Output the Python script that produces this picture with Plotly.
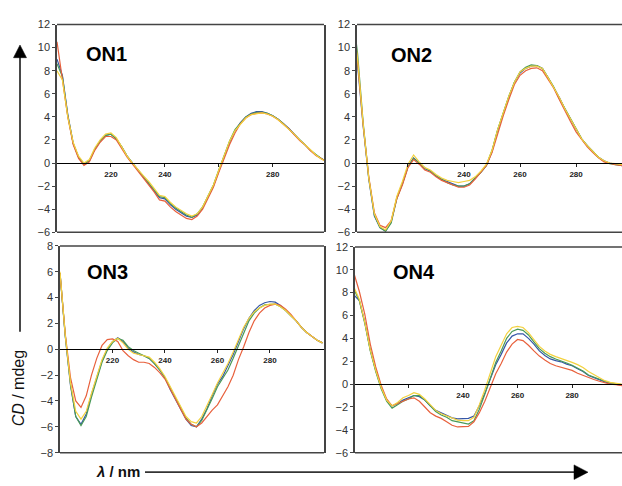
import plotly.graph_objects as go

# ---------------- data ----------------
WAVELENGTH = [200, 202, 204, 206, 208, 210, 212, 214, 216, 218,
              220, 222, 224, 226, 228, 230, 232, 234, 236, 238,
              240, 242, 244, 246, 248, 250, 252, 254, 256, 258,
              260, 262, 264, 266, 268, 270, 272, 274, 276, 278,
              280, 282, 284, 286, 288, 290, 292, 294, 296, 298, 300]

SERIES_NAMES = ["blue", "green", "red", "yellow"]
SERIES_COLORS = ["#3556a6", "#4a9a58", "#e8603c", "#f3d23e"]

ON1_BLUE = [9.0, 7.6, 4.2, 1.7, 0.5, -0.1, 0.2, 1.2, 1.9, 2.4, 2.5, 2.1, 1.4, 0.6, 0.0, -0.6, -1.2, -1.7, -2.3, -3.0, -3.1, -3.6, -4.0, -4.3, -4.6, -4.7, -4.5, -3.9, -3.0, -2.0, -0.7, 0.6, 1.8, 2.8, 3.5, 4.0, 4.3, 4.45, 4.45, 4.3, 4.1, 3.8, 3.4, 3.0, 2.5, 2.0, 1.6, 1.1, 0.7, 0.4, 0.1]
ON1_GREEN = [8.6, 7.5, 4.1, 1.7, 0.5, -0.1, 0.2, 1.2, 1.9, 2.4, 2.5, 2.1, 1.4, 0.6, 0.0, -0.6, -1.2, -1.7, -2.3, -2.9, -3.0, -3.5, -3.9, -4.2, -4.5, -4.7, -4.4, -3.8, -2.9, -1.9, -0.6, 0.7, 1.9, 2.9, 3.5, 4.0, 4.25, 4.4, 4.4, 4.3, 4.1, 3.8, 3.4, 2.95, 2.5, 2.0, 1.6, 1.1, 0.75, 0.4, 0.15]
ON1_RED = [10.5, 7.4, 4.0, 1.6, 0.4, -0.2, 0.1, 1.1, 1.8, 2.3, 2.3, 2.0, 1.2, 0.5, -0.1, -0.7, -1.3, -1.8, -2.5, -3.2, -3.3, -3.8, -4.2, -4.5, -4.8, -4.9, -4.6, -4.0, -3.1, -2.1, -0.8, 0.4, 1.6, 2.6, 3.4, 3.9, 4.2, 4.3, 4.35, 4.25, 4.05, 3.75, 3.35, 2.95, 2.45, 1.95, 1.55, 1.05, 0.65, 0.35, 0.1]
ON1_YELLOW = [8.0, 7.2, 4.0, 1.8, 0.6, 0.0, 0.3, 1.3, 2.0, 2.5, 2.6, 2.2, 1.4, 0.6, 0.0, -0.6, -1.1, -1.6, -2.2, -2.8, -2.9, -3.4, -3.8, -4.1, -4.4, -4.6, -4.4, -3.8, -2.9, -1.9, -0.6, 0.7, 1.9, 2.8, 3.4, 3.9, 4.2, 4.3, 4.35, 4.25, 4.05, 3.75, 3.35, 2.95, 2.5, 2.0, 1.6, 1.15, 0.7, 0.35, 0.1]

ON2_BLUE = [13.0, 8.5, 3.2, -1.4, -4.6, -5.6, -5.9, -5.1, -3.0, -1.8, -0.3, 0.45, 0.0, -0.5, -0.7, -1.1, -1.4, -1.6, -1.8, -2.0, -2.0, -1.8, -1.3, -0.8, -0.2, 1.0, 2.8, 4.3, 5.7, 7.0, 7.8, 8.2, 8.4, 8.45, 8.2, 7.4, 6.6, 5.7, 4.7, 3.8, 2.9, 2.1, 1.5, 1.0, 0.5, 0.2, 0.0, -0.1, -0.2, -0.3, -0.3]
ON2_GREEN = [13.5, 9.5, 3.5, -1.3, -4.5, -5.6, -5.9, -5.2, -3.1, -1.8, -0.3, 0.4, 0.0, -0.4, -0.7, -1.1, -1.4, -1.7, -1.9, -2.0, -2.0, -1.8, -1.3, -0.8, -0.2, 1.1, 2.9, 4.4, 5.8, 7.0, 7.9, 8.3, 8.5, 8.45, 8.2, 7.4, 6.6, 5.6, 4.7, 3.8, 2.9, 2.1, 1.5, 1.0, 0.5, 0.15, -0.05, -0.15, -0.2, -0.3, -0.3]
ON2_RED = [13.0, 8.8, 3.3, -1.2, -4.3, -5.4, -5.6, -5.0, -3.1, -1.9, -0.4, 0.3, -0.1, -0.6, -0.8, -1.2, -1.5, -1.7, -1.9, -2.1, -2.1, -1.9, -1.4, -0.8, -0.2, 0.9, 2.6, 4.1, 5.5, 6.8, 7.6, 8.0, 8.2, 8.25, 8.0, 7.3, 6.5, 5.5, 4.5, 3.6, 2.7, 2.0, 1.4, 0.9, 0.45, 0.1, -0.05, -0.15, -0.2, -0.3, -0.3]
ON2_YELLOW = [13.2, 9.0, 3.4, -1.3, -4.4, -5.5, -5.8, -5.0, -2.9, -1.6, -0.1, 0.7, 0.1, -0.4, -0.6, -1.0, -1.3, -1.5, -1.6, -1.7, -1.6, -1.5, -1.2, -0.7, -0.1, 1.1, 2.9, 4.4, 5.8, 7.0, 7.9, 8.2, 8.4, 8.4, 8.2, 7.4, 6.6, 5.7, 4.7, 3.8, 2.9, 2.1, 1.5, 1.0, 0.5, 0.2, 0.0, -0.05, -0.1, -0.2, -0.25]

ON3_BLUE = [5.9, 1.0, -2.8, -5.2, -5.8, -5.0, -3.5, -2.1, -0.9, 0.0, 0.6, 0.9, 0.6, 0.1, -0.2, -0.4, -0.5, -0.7, -1.1, -1.6, -2.2, -3.1, -3.9, -4.7, -5.4, -5.9, -6.0, -5.4, -4.6, -3.6, -2.7, -2.1, -1.3, -0.4, 0.6, 1.6, 2.4, 3.0, 3.4, 3.6, 3.7, 3.65, 3.4, 3.0, 2.6, 2.2, 1.7, 1.3, 1.0, 0.7, 0.5]
ON3_GREEN = [5.9, 1.1, -2.7, -5.2, -5.9, -5.2, -3.7, -2.3, -1.0, -0.1, 0.5, 0.85, 0.7, 0.2, -0.1, -0.3, -0.5, -0.7, -1.1, -1.6, -2.2, -3.0, -3.8, -4.6, -5.3, -5.8, -6.0, -5.5, -4.7, -3.8, -2.9, -2.3, -1.6, -0.7, 0.3, 1.3, 2.2, 2.8, 3.2, 3.45, 3.5, 3.5, 3.3, 3.0, 2.6, 2.2, 1.7, 1.3, 1.0, 0.7, 0.5]
ON3_RED = [5.9, 1.2, -2.2, -4.0, -4.5, -3.6, -2.0, -0.7, 0.3, 0.75, 0.8, 0.6, -0.1, -0.5, -0.8, -1.0, -1.0, -1.1, -1.4, -1.8, -2.3, -3.1, -3.9, -4.7, -5.4, -5.8, -6.0, -5.7, -5.2, -4.7, -4.3, -3.6, -2.9, -2.0, -0.8, 0.2, 1.3, 2.2, 2.8, 3.2, 3.4, 3.5, 3.4, 3.1, 2.7, 2.2, 1.7, 1.3, 1.0, 0.7, 0.5]
ON3_YELLOW = [6.0, 1.1, -2.6, -4.8, -5.4, -4.8, -3.4, -2.0, -0.8, 0.1, 0.6, 0.85, 0.5, 0.0, -0.3, -0.4, -0.5, -0.6, -1.0, -1.5, -2.1, -2.9, -3.7, -4.5, -5.2, -5.6, -5.7, -5.2, -4.4, -3.5, -2.6, -1.9, -1.1, -0.2, 0.8, 1.7, 2.4, 2.9, 3.2, 3.4, 3.5, 3.5, 3.3, 3.0, 2.6, 2.2, 1.7, 1.3, 1.0, 0.7, 0.5]

ON4_BLUE = [7.8, 7.3, 5.4, 3.0, 1.2, -0.3, -1.4, -1.9, -1.7, -1.4, -1.2, -1.0, -1.1, -1.4, -1.9, -2.3, -2.5, -2.75, -2.95, -3.05, -3.05, -3.0, -2.8, -1.9, -0.8, 0.5, 1.7, 2.6, 3.6, 4.2, 4.4, 4.4, 4.0, 3.5, 2.9, 2.5, 2.2, 2.05, 1.95, 1.75, 1.6, 1.35, 1.1, 0.75, 0.55, 0.4, 0.2, 0.05, 0.0, -0.1, -0.2]
ON4_GREEN = [8.3, 7.3, 5.3, 2.9, 1.1, -0.4, -1.5, -2.1, -1.8, -1.5, -1.3, -1.0, -1.0, -1.4, -1.9, -2.4, -2.7, -2.9, -3.2, -3.3, -3.4, -3.5, -3.2, -2.2, -0.9, 0.5, 1.9, 2.9, 4.0, 4.6, 4.8, 4.7, 4.3, 3.7, 3.1, 2.7, 2.4, 2.2, 2.05, 1.85, 1.65, 1.4, 1.15, 0.8, 0.6, 0.45, 0.25, 0.1, 0.05, -0.05, -0.15]
ON4_RED = [9.7, 8.1, 6.1, 3.5, 1.5, -0.1, -1.3, -1.9, -1.7, -1.5, -1.3, -1.2, -1.5, -2.0, -2.5, -2.8, -3.0, -3.3, -3.6, -3.75, -3.75, -3.7, -3.3, -2.5, -1.5, -0.3, 0.9, 1.8, 2.8, 3.5, 3.9, 3.8, 3.4, 2.9, 2.45, 2.1, 1.8, 1.6, 1.45, 1.35, 1.2, 0.95, 0.75, 0.55, 0.4, 0.25, 0.1, 0.0, -0.05, -0.1, -0.2]
ON4_YELLOW = [8.5, 7.4, 5.4, 3.0, 1.2, -0.3, -1.4, -1.9, -1.6, -1.2, -1.0, -0.75, -0.9, -1.3, -1.8, -2.3, -2.6, -2.8, -3.0, -3.15, -3.2, -3.2, -2.9, -1.8, -0.5, 1.0, 2.4, 3.4, 4.4, 4.95, 5.05, 4.95, 4.5, 3.9, 3.3, 2.9, 2.6, 2.4, 2.25, 2.05, 1.9, 1.7, 1.45, 1.1, 0.85, 0.55, 0.3, 0.15, 0.1, 0.0, -0.1]

PANEL_TITLES = ["ON1", "ON2", "ON3", "ON4"]
X_TICK_VALUES = [220, 240, 260, 280]
X_TICK_LABELS = [
    ["220", "240", "", "280"],
    ["", "240", "260", "280"],
    ["220", "240", "260", "280"],
    ["", "240", "260", "280"],
]
Y_RANGES = [[-6, 12], [-6, 12], [-8, 8], [-6, 12]]
PANEL_DATA = [
    [ON1_BLUE, ON1_GREEN, ON1_RED, ON1_YELLOW],
    [ON2_BLUE, ON2_GREEN, ON2_RED, ON2_YELLOW],
    [ON3_BLUE, ON3_GREEN, ON3_RED, ON3_YELLOW],
    [ON4_BLUE, ON4_GREEN, ON4_RED, ON4_YELLOW],
]

# ---------------- layout geometry (pixels) ----------------
W, H = 622, 486
FONT = "Liberation Sans, Arial, sans-serif"


def px(x):
    return x / W


def py(y):
    return 1 - y / H


GEOM = [
    dict(xpx=(57, 324), ypx=(19, 232), xr=[200, 299], right=False, lab=(84, 49)),
    dict(xpx=(357, 622), ypx=(19, 232), xr=[201.8, 296.4], right=True, lab=(389, 50)),
    dict(xpx=(60, 324), ypx=(246, 458), xr=[200, 300.6], right=False, lab=(85, 273)),
    dict(xpx=(355, 622), ypx=(247, 458), xr=[200.4, 298.3], right=True, lab=(391, 273)),
]

fig = go.Figure()
shapes = []
annotations = []
layout_axes = {}

for i in range(4):
    g = GEOM[i]
    k = "" if i == 0 else str(i + 1)
    xdom = [px(g["xpx"][0]), px(g["xpx"][1])]
    ydom = [py(g["ypx"][1]), py(g["ypx"][0])]
    y0, y1 = Y_RANGES[i]
    zero_pos = ydom[0] + (0 - y0) / (y1 - y0) * (ydom[1] - ydom[0])

    for s in range(4):
        fig.add_trace(go.Scatter(
            x=WAVELENGTH, y=PANEL_DATA[i][s], mode="lines",
            line=dict(color=SERIES_COLORS[s], width=1.2),
            name=SERIES_NAMES[s], showlegend=False,
            xaxis="x" + k, yaxis="y" + k,
        ))

    layout_axes["xaxis" + k] = dict(
        domain=xdom, range=g["xr"], anchor="free", position=zero_pos,
        showline=True, linecolor="black", linewidth=1.3,
        ticks="outside", ticklen=3, tickwidth=1, tickcolor="#222",
        tickvals=X_TICK_VALUES,
        ticktext=["<b>%s</b>" % t if t else "" for t in X_TICK_LABELS[i]],
        tickfont=dict(family=FONT, size=8, color="#222"),
        showgrid=False, zeroline=False, fixedrange=True,
    )
    layout_axes["yaxis" + k] = dict(
        domain=ydom, range=[y0, y1], anchor="x" + k,
        showline=True, linecolor="#444", linewidth=1.5, mirror=not g["right"],
        ticks="outside", ticklen=3, tickcolor="#444",
        tick0=0, dtick=2,
        tickfont=dict(family=FONT, size=11, color="#333"),
        showgrid=False, zeroline=False, fixedrange=True,
    )
    for yy in (0, 1):
        shapes.append(dict(
            type="line", xref="x%s domain" % k, yref="y%s domain" % k,
            x0=0, x1=1, y0=yy, y1=yy, line=dict(color="#444", width=1.5),
        ))
    annotations.append(dict(
        text="<b>%s</b>" % PANEL_TITLES[i], xref="paper", yref="paper",
        x=px(g["lab"][0]), y=py(g["lab"][1]), xanchor="left", yanchor="middle",
        showarrow=False, font=dict(family=FONT, size=20, color="black"),
    ))

# axis titles
annotations.append(dict(
    text="<i>CD</i> / mdeg", xref="paper", yref="paper",
    x=px(18), y=py(392), xanchor="center", yanchor="middle", textangle=-90,
    showarrow=False, font=dict(family=FONT, size=16, color="#111"),
))
annotations.append(dict(
    text="<b><i>λ</i> / nm</b>", xref="paper", yref="paper",
    x=px(118), y=py(477), xanchor="center", yanchor="middle",
    showarrow=False, font=dict(family=FONT, size=15, color="#111"),
))

# arrows
ARROW_COLOR = "#333"
shapes.append(dict(type="line", xref="paper", yref="paper",
                   x0=px(20), x1=px(20), y0=py(334), y1=py(50),
                   line=dict(color=ARROW_COLOR, width=1.8)))
shapes.append(dict(type="path", xref="paper", yref="paper",
                   path="M %f %f L %f %f L %f %f Z" % (px(20), py(40), px(13.5), py(53), px(26.5), py(53)),
                   fillcolor="black", line=dict(color="black", width=0.5)))
shapes.append(dict(type="line", xref="paper", yref="paper",
                   x0=px(145), x1=px(578), y0=py(478), y1=py(478),
                   line=dict(color=ARROW_COLOR, width=1.8)))
shapes.append(dict(type="path", xref="paper", yref="paper",
                   path="M %f %f L %f %f L %f %f Z" % (px(588), py(478), px(574), py(470.5), px(574), py(485.5)),
                   fillcolor="black", line=dict(color="black", width=0.5)))

fig.update_layout(
    width=W, height=H, autosize=False,
    margin=dict(l=0, r=0, t=0, b=0, pad=0),
    paper_bgcolor="white", plot_bgcolor="white",
    shapes=shapes, annotations=annotations,
    showlegend=False,
    font=dict(family=FONT),
    **layout_axes,
)

fig.write_html(
    "out.html",
    config={"displayModeBar": False},
    post_script="document.body.style.margin='0';document.body.style.overflow='hidden';",
)
